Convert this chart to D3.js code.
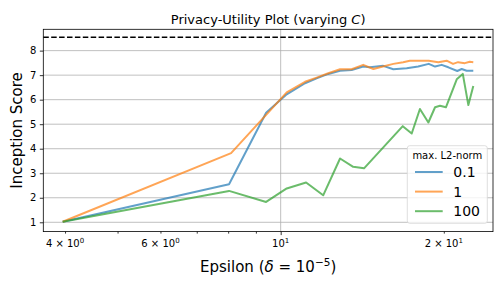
<!DOCTYPE html>
<html>
<head>
<meta charset="utf-8">
<script src="https://cdn.jsdelivr.net/npm/d3@7"></script>
<style>
body { margin: 0; background: #fff; }
svg { display: block; font-family: "DejaVu Sans", sans-serif; }
.grid line { stroke: #b0b0b0; stroke-width: 0.8; }
.axis path, .axis line { stroke: #000; stroke-width: 0.8; }
.axis text { fill: #000; }
</style>
</head>
<body>
<script>
var epsBlue = [3.96, 8.03, 9.40, 10.26, 11.09, 11.65, 12.24, 12.87, 13.52, 14.20, 14.61, 15.46, 16.14,
    17.08, 17.94, 18.76, 19.27, 19.82, 20.39, 21.18, 21.58, 22.04, 22.67];
var isBlue = [1.02, 2.55, 5.47, 6.22, 6.67, 6.87, 7.05, 7.18, 7.21, 7.35, 7.32, 7.38, 7.24,
    7.28, 7.35, 7.46, 7.35, 7.42, 7.32, 7.17, 7.25, 7.18, 7.18];

var epsOrange = [3.96, 8.10, 10.26, 11.09, 11.65, 12.24, 12.87, 13.52, 14.20, 14.83, 15.25, 16.14,
    16.83, 17.31, 18.76, 19.54, 20.24, 20.80, 21.25, 21.87, 22.33, 22.67];
var isOrange = [1.02, 3.82, 6.30, 6.73, 6.90, 7.08, 7.24, 7.24, 7.42, 7.25, 7.32, 7.46,
    7.53, 7.59, 7.59, 7.53, 7.59, 7.46, 7.53, 7.49, 7.55, 7.53];

var epsGreen = [3.96, 8.03, 9.40, 10.26, 11.14, 11.98, 12.87, 13.61, 14.25, 16.80, 17.45, 18.07,
    18.73, 19.27, 19.68, 20.18, 21.13, 21.68, 22.20, 22.67];
var isGreen = [1.02, 2.28, 1.83, 2.38, 2.62, 2.10, 3.60, 3.26, 3.20, 4.92, 4.62, 5.62,
    5.07, 5.69, 5.75, 5.69, 6.83, 7.05, 5.78, 6.56];

var baseline = 8.55;
var normLabels = ["0.1", "1", "100"];
var colors = ["#1f77b4", "#ff7f0e", "#2ca02c"];

var yTicks = [1, 2, 3, 4, 5, 6, 7, 8];
var xMinor = [4, 5, 6, 7, 8, 9, 20];
var xMinorLabels = { 4: ["4", "0"], 6: ["6", "0"], 20: ["2", "1"] };

var W = 504, H = 288;
var axL = 43.3, axR = 493, axT = 29.3, axB = 231.6;

var svg = d3.select("body").append("svg")
    .attr("width", W)
    .attr("height", H);

var x = d3.scaleLog().domain([3.647, 24.65]).range([axL, axR]);
var y = d3.scaleLinear().domain([0.62, 8.87]).range([axB, axT]);

// grid
var grid = svg.append("g").attr("class", "grid");
grid.selectAll("line.gy").data(yTicks).enter().append("line")
    .attr("x1", axL).attr("x2", axR)
    .attr("y1", function (d) { return y(d); })
    .attr("y2", function (d) { return y(d); });
grid.append("line")
    .attr("x1", x(10)).attr("x2", x(10))
    .attr("y1", axT).attr("y2", axB);

// baseline
svg.append("line")
    .attr("x1", axL).attr("x2", axR)
    .attr("y1", y(baseline)).attr("y2", y(baseline))
    .attr("stroke", "#000")
    .attr("stroke-width", 1.5)
    .attr("stroke-dasharray", "5.5,2.4");

// series
var series = [
    { eps: epsBlue, score: isBlue },
    { eps: epsOrange, score: isOrange },
    { eps: epsGreen, score: isGreen }
];
var line = d3.line()
    .x(function (d) { return x(d[0]); })
    .y(function (d) { return y(d[1]); });

series.forEach(function (s, i) {
    svg.append("path")
        .datum(d3.zip(s.eps, s.score))
        .attr("fill", "none")
        .attr("stroke", colors[i])
        .attr("stroke-opacity", 0.7)
        .attr("stroke-width", 2)
        .attr("stroke-linejoin", "round")
        .attr("d", line);
});

// axes
var yAxis = svg.append("g").attr("class", "axis")
    .attr("transform", "translate(" + axL + ",0)")
    .call(d3.axisLeft(y).tickValues(yTicks).tickSize(3.5).tickPadding(3.5).tickFormat(d3.format("d")));
yAxis.selectAll("text").attr("font-size", 10).attr("font-family", "DejaVu Sans");
yAxis.select(".domain").remove();

var xMinorAxis = svg.append("g").attr("class", "axis")
    .attr("transform", "translate(0," + axB + ")")
    .call(d3.axisBottom(x).tickValues(xMinor).tickSize(2).tickFormat(""));
xMinorAxis.select(".domain").remove();
var xMajorAxis = svg.append("g").attr("class", "axis")
    .attr("transform", "translate(0," + axB + ")")
    .call(d3.axisBottom(x).tickValues([10]).tickSize(3.5).tickFormat(""));
xMajorAxis.select(".domain").remove();

function sciLabel(xv, mant, expo) {
    var t = svg.append("text")
        .attr("x", x(xv))
        .attr("y", axB + 15.5)
        .attr("text-anchor", "middle")
        .attr("font-size", 10)
        .attr("fill", "#000");
    if (mant) {
        t.append("tspan").text(mant + " \u00d7 ");
    }
    t.append("tspan").text("10");
    t.append("tspan").attr("font-size", 7).attr("dy", -4).text(expo);
}
xMinor.forEach(function (v) {
    if (xMinorLabels[v]) sciLabel(v, xMinorLabels[v][0], xMinorLabels[v][1]);
});
sciLabel(10, null, "1");

// frame
svg.append("rect")
    .attr("x", axL).attr("y", axT)
    .attr("width", axR - axL).attr("height", axB - axT)
    .attr("fill", "none")
    .attr("stroke", "#000")
    .attr("stroke-width", 0.8);

// title
var title = svg.append("text")
    .attr("x", (axL + axR) / 2)
    .attr("y", axT - 5.5)
    .attr("text-anchor", "middle")
    .attr("font-size", 13)
    .attr("fill", "#000");
title.append("tspan").text("Privacy-Utility Plot (varying ");
title.append("tspan").attr("font-style", "italic").text("C");
title.append("tspan").text(")");

// axis labels
var xl = svg.append("text")
    .attr("x", (axL + axR) / 2)
    .attr("y", 272)
    .attr("text-anchor", "middle")
    .attr("font-size", 15)
    .attr("fill", "#000");
xl.append("tspan").text("Epsilon (");
xl.append("tspan").attr("font-style", "italic").text("\u03b4");
xl.append("tspan").text(" = 10");
xl.append("tspan").attr("font-size", 10.5).attr("dy", -6).text("\u22125");
xl.append("tspan").attr("dy", 6).text(")");

svg.append("text")
    .attr("transform", "translate(22," + ((axT + axB) / 2) + ") rotate(-90)")
    .attr("text-anchor", "middle")
    .attr("font-size", 15)
    .attr("fill", "#000")
    .text("Inception Score");

// legend
var lg = svg.append("g").attr("transform", "translate(407.3,145.7)");
lg.append("rect")
    .attr("width", 80).attr("height", 77.6)
    .attr("rx", 2.5)
    .attr("fill", "#fff").attr("fill-opacity", 0.8)
    .attr("stroke", "#d6d6d6").attr("stroke-width", 0.8);
lg.append("text")
    .attr("x", 40).attr("y", 13)
    .attr("text-anchor", "middle")
    .attr("font-size", 10)
    .attr("fill", "#000")
    .text("max. L2-norm");
normLabels.forEach(function (lab, i) {
    var yy = 26.3 + i * 19.6;
    lg.append("line")
        .attr("x1", 7.7).attr("x2", 35.4)
        .attr("y1", yy).attr("y2", yy)
        .attr("stroke", colors[i])
        .attr("stroke-opacity", 0.7)
        .attr("stroke-width", 2);
    lg.append("text")
        .attr("x", 46)
        .attr("y", yy + 5)
        .attr("font-size", 14)
        .attr("fill", "#000")
        .text(lab);
});
</script>
</body>
</html>
